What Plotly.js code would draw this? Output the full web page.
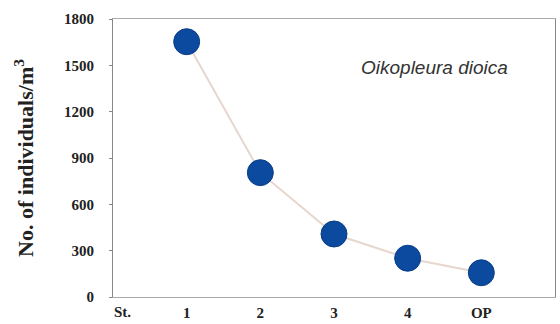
<!DOCTYPE html>
<html><head><meta charset="utf-8">
<script src="https://cdn.plot.ly/plotly-3.0.1.min.js"></script>
<style>html,body{margin:0;padding:0;background:#fff}#c{width:560px;height:324px}</style>
</head><body><div id="c"></div>
<script>
const stations = ["1", "2", "3", "4", "OP"];
const stationPos = [1, 2, 3, 4, 5];
const individuals = [1653, 805, 408, 251, 157];
const yTicks = [0, 300, 600, 900, 1200, 1500, 1800];
const xTickVals = [1, 2, 3, 4, 5];
const xTickText = ["1", "2", "3", "4", "OP"];
const speciesName = "Oikopleura dioica";

const tickFont = {family: "Liberation Serif, Times New Roman, serif", size: 15, color: "#222", weight: "bold"};
const trace = {
  x: stationPos, y: individuals, type: "scatter", mode: "lines+markers",
  line: {color: "#e6d6ce", width: 2},
  marker: {color: "#0b4a9e", size: 26, line: {color: "#083d85", width: 1}},
  hoverinfo: "none", showlegend: false
};
const layout = {
  width: 560, height: 324,
  margin: {l: 113, r: 5, t: 19, b: 27},
  paper_bgcolor: "#fff", plot_bgcolor: "#fff",
  xaxis: {
    range: [0, 6], tickmode: "array", tickvals: xTickVals, ticktext: xTickText,
    showgrid: false, zeroline: false, showline: true, linecolor: "#aaa", linewidth: 1,
    mirror: true, ticks: "", tickfont: tickFont, ticklabelstandoff: 2
  },
  yaxis: {
    range: [0, 1800], tickmode: "array", tickvals: yTicks,
    showgrid: false, zeroline: false, showline: true, linecolor: "#888", linewidth: 1,
    mirror: true, ticks: "outside", ticklen: 3, tickcolor: "#888",
    tickfont: tickFont, ticklabelstandoff: 12,
    title: {text: "No. of individuals/m<sup>3</sup>", standoff: 24,
      font: {family: "Liberation Serif, Times New Roman, serif", size: 22, color: "#222", weight: "bold"}}
  },
  annotations: [
    {x: 0, y: 0, xref: "x", yref: "y", text: "St.", showarrow: false,
     xanchor: "left", yanchor: "top", xshift: -1, yshift: -5, font: tickFont},
    {x: 4.37, y: 1489, xref: "x", yref: "y", text: "<i>" + speciesName + "</i>", showarrow: false,
     font: {family: "Liberation Sans, Arial, sans-serif", size: 19, color: "#333"}}
  ]
};
Plotly.newPlot("c", [trace], layout, {staticPlot: true, displayModeBar: false});
</script></body></html>
